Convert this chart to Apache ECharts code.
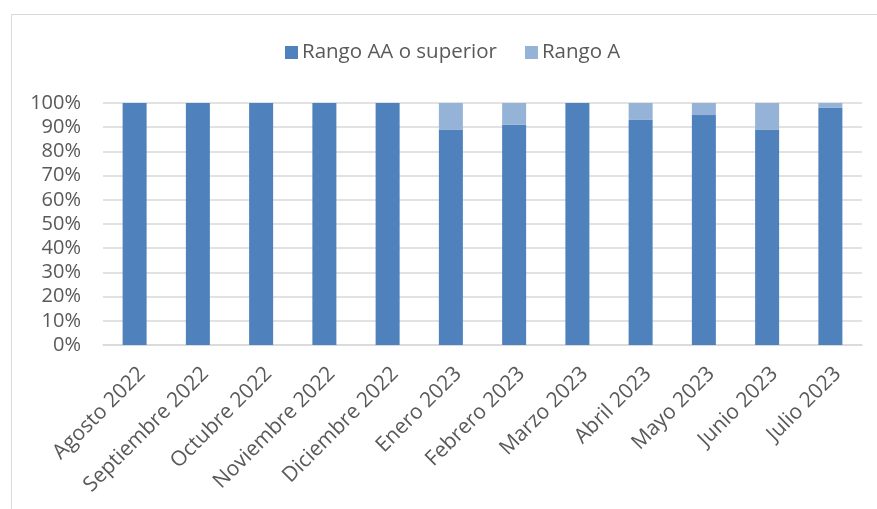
<!DOCTYPE html>
<html>
<head>
<meta charset="utf-8">
<script src="https://cdn.jsdelivr.net/npm/echarts@6/dist/echarts.min.js"></script>
<style>
html,body{margin:0;padding:0;background:#fff;}
#chart{width:877px;height:509px;}
</style>
</head>
<body>
<div id="chart"></div>
<script>
const categories = ['Agosto 2022','Septiembre 2022','Octubre 2022','Noviembre 2022','Diciembre 2022','Enero 2023','Febrero 2023','Marzo 2023','Abril 2023','Mayo 2023','Junio 2023','Julio 2023'];
const rangoAA = [100,100,100,100,100,89,91,100,93,95,89,98];
const rangoA = [0,0,0,0,0,11,9,0,7,5,11,2];
const seriesNames = ['Rango AA o superior','Rango A'];

const FONT = 'Open Sans';
const chart = echarts.init(document.getElementById('chart'));
chart.setOption({
  animation: false,
  backgroundColor: '#fff',
  graphic: [{
    type: 'rect', left: 9, top: 12, silent: true,
    shape: { width: 900, height: 600 },
    style: { fill: 'none', stroke: '#d9d9d9', lineWidth: 1 }
  }],
  legend: {
    left: 280, top: 37,
    itemWidth: 13, itemHeight: 13, itemGap: 28,
    icon: 'rect',
    textStyle: { fontFamily: FONT, fontSize: 20.5, color: '#595959', padding: [0,0,0,-1] },
    data: seriesNames
  },
  grid: { left: 103, right: 15, top: 103, bottom: 164 },
  xAxis: {
    type: 'category', data: categories,
    axisLine: { lineStyle: { color: '#d9d9d9', width: 1.5 } },
    axisTick: { show: false },
    axisLabel: { rotate: 45, interval: 0, margin: 18, verticalAlign: 'top',
      fontFamily: FONT, fontSize: 21, color: '#595959' }
  },
  yAxis: {
    type: 'value', min: 0, max: 100, interval: 10,
    axisLine: { show: false }, axisTick: { show: false },
    splitLine: { lineStyle: { color: '#d9d9d9', width: 1.5 } },
    axisLabel: { formatter: '{value}%', margin: 22, fontFamily: FONT, fontSize: 20, color: '#595959' }
  },
  series: [
    { name: seriesNames[0], type: 'bar', stack: 'total', barWidth: 24, data: rangoAA,
      itemStyle: { color: '#4F81BD' } },
    { name: seriesNames[1], type: 'bar', stack: 'total', barWidth: 24, data: rangoA,
      itemStyle: { color: '#95B3D7' } }
  ]
});
</script>
</body>
</html>
